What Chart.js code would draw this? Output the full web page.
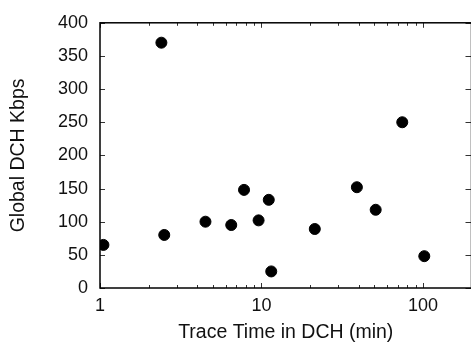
<!DOCTYPE html>
<html>
<head>
<meta charset="utf-8">
<script src="https://cdn.jsdelivr.net/npm/chart.js@4"></script>
<style>
  html, body { margin: 0; padding: 0; background: #fff; overflow: hidden; }
  #wrap { width: 471px; height: 345px; overflow: hidden; position: relative; }
  #wrap canvas { position: absolute; left: 0; top: 0; }
</style>
</head>
<body>
<div id="wrap"><canvas id="scatterChart" width="478" height="345"></canvas></div>
<script>
// trace time in DCH (minutes) and global DCH throughput (Kbps)
const traceMinutes = [1.05, 2.4, 2.5, 4.5, 6.5, 7.8, 9.6, 11.1, 11.5, 21.4, 39, 51, 74.5, 102];
const dchKbps = [65, 370, 80, 100, 95, 148, 102, 133, 25, 89, 152, 118, 250, 48];

const xMajorTicks = [1, 10, 100];
const yTicks = [0, 50, 100, 150, 200, 250, 300, 350, 400];

const points = traceMinutes.map((t, i) => ({ x: t, y: dchKbps[i] }));

// minor ticks of the log axis: 2..9 per decade
const xMinorTicks = [];
for (const d of [1, 10, 100]) {
  for (let k = 2; k <= 9; k++) {
    if (d * k <= 200) xMinorTicks.push(d * k);
  }
}

const frameTicks = {
  id: 'frameTicks',
  afterDatasetsDraw(chart) {
    const { ctx, chartArea: a, scales } = chart;
    ctx.save();
    ctx.strokeStyle = '#333';
    ctx.lineWidth = 1;
    ctx.beginPath();
    xMajorTicks.forEach(v => {
      const px = Math.round(scales.x.getPixelForValue(v)) + 0.5;
      ctx.moveTo(px, a.bottom); ctx.lineTo(px, a.bottom - 5);
      ctx.moveTo(px, a.top); ctx.lineTo(px, a.top + 5);
    });
    xMinorTicks.forEach(v => {
      const px = Math.round(scales.x.getPixelForValue(v)) + 0.5;
      ctx.moveTo(px, a.bottom); ctx.lineTo(px, a.bottom - 3);
      ctx.moveTo(px, a.top); ctx.lineTo(px, a.top + 3);
    });
    yTicks.forEach(v => {
      const py = Math.round(scales.y.getPixelForValue(v)) + 0.5;
      ctx.moveTo(a.left, py); ctx.lineTo(a.left + 5, py);
      ctx.moveTo(a.right, py); ctx.lineTo(a.right - 6, py);
    });
    ctx.stroke();

    ctx.strokeStyle = '#000';
    ctx.lineWidth = 1.5;
    ctx.strokeRect(a.left, a.top, a.right - a.left, a.bottom - a.top);
    ctx.restore();
  }
};

const tickFont = { family: '"Liberation Sans", Arial, sans-serif', size: 18 };
const titleFont = { family: '"Liberation Sans", Arial, sans-serif', size: 19.5 };

new Chart(document.getElementById('scatterChart'), {
  type: 'scatter',
  data: {
    datasets: [{
      data: points,
      backgroundColor: '#000',
      borderColor: '#000',
      pointRadius: 5.5,
      pointHoverRadius: 5.5
    }]
  },
  options: {
    responsive: false,
    animation: false,
    devicePixelRatio: 1,
    layout: { padding: { top: 18, right: 5.5, left: 0, bottom: 0 } },
    plugins: {
      legend: { display: false },
      tooltip: { enabled: false }
    },
    scales: {
      x: {
        type: 'logarithmic',
        min: 1,
        max: 200,
        grid: { display: false, drawTicks: false },
        border: { display: false },
        afterBuildTicks: scale => { scale.ticks = xMajorTicks.map(v => ({ value: v })); },
        afterFit: scale => { scale.height = 57; },
        ticks: {
          color: '#111',
          font: tickFont,
          padding: 7,
          maxRotation: 0,
          callback: v => String(v)
        },
        title: {
          display: true,
          text: 'Trace Time in DCH (min)',
          color: '#111',
          font: titleFont,
          padding: { top: 0, bottom: 1 }
        }
      },
      y: {
        min: 0,
        max: 400,
        grid: { display: false, drawTicks: false },
        border: { display: false },
        afterBuildTicks: scale => { scale.ticks = yTicks.map(v => ({ value: v })); },
        afterFit: scale => { scale.width = 100; },
        ticks: {
          color: '#111',
          font: tickFont,
          padding: 12
        },
        title: {
          display: true,
          text: 'Global DCH Kbps',
          color: '#111',
          font: titleFont,
          padding: { top: 7, bottom: 0 }
        }
      }
    }
  },
  plugins: [frameTicks]
});
</script>
</body>
</html>
